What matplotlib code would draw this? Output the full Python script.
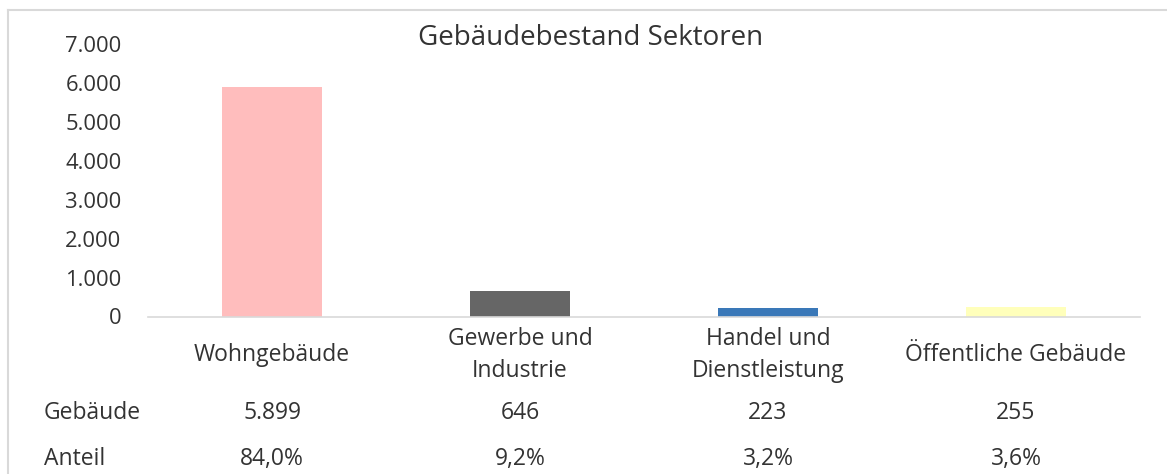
import matplotlib.pyplot as plt
from matplotlib import transforms
from matplotlib.lines import Line2D

plt.rcParams['font.family'] = ['Open Sans', 'DejaVu Sans']

# data
categories = ["Wohngebäude", "Gewerbe und\nIndustrie", "Handel und\nDienstleistung", "Öffentliche Gebäude"]
gebaeude = [5899, 646, 223, 255]
anteil = [84.0, 9.2, 3.2, 3.6]
yticks = [0, 1000, 2000, 3000, 4000, 5000, 6000, 7000]
colors = ["#FFBDBD", "#666666", "#3A78B8", "#FFFFBB"]

W, H = 1167, 474
txt = "#333333"
fs = 16.5

fig = plt.figure(figsize=(W / 100, H / 100), dpi=100)

# chart border (only top and left visible in the crop)
fig.add_artist(Line2D([8 / W, 1], [1 - 10 / H] * 2, color="#D9D9D9", lw=1.5))
fig.add_artist(Line2D([8 / W] * 2, [0, 1 - 10 / H], color="#D9D9D9", lw=1.5))

left, right, top, bottom = 148, 1140, 44.5, 316.5
ax = fig.add_axes([left / W, 1 - bottom / H, (right - left) / W, (bottom - top) / H])

x = range(len(categories))
ax.bar(x, gebaeude, width=0.4, color=colors)
ax.set_xlim(-0.5, len(categories) - 0.5)
ax.set_ylim(0, 7000)
ax.set_yticks(yticks)
ax.set_yticklabels([f"{v:,}".replace(",", ".") for v in yticks], fontsize=15.8, color=txt)
ax.tick_params(axis="y", length=0, pad=19)
ax.set_xticks([])
for s in ["top", "right", "left"]:
    ax.spines[s].set_visible(False)
ax.spines["bottom"].set_color("#D9D9D9")
ax.spines["bottom"].set_linewidth(1.2)

fig.text(591 / W, 1 - 38 / H, "Gebäudebestand Sektoren", ha="center", va="center",
         fontsize=20, color=txt)

tr = transforms.blended_transform_factory(ax.transData, fig.transFigure)
for i, c in enumerate(categories):
    ax.text(i, 1 - 355 / H, c, transform=tr, ha="center", va="center",
            fontsize=fs, color=txt, linespacing=1.45, clip_on=False)
    ax.text(i, 1 - 413 / H, f"{gebaeude[i]:,}".replace(",", "."), transform=tr,
            ha="center", va="center", fontsize=fs, color=txt, clip_on=False)
    ax.text(i, 1 - 459 / H, f"{anteil[i]:.1f}%".replace(".", ","), transform=tr,
            ha="center", va="center", fontsize=fs, color=txt, clip_on=False)

fig.text(44 / W, 1 - 413 / H, "Gebäude", ha="left", va="center", fontsize=fs, color=txt)
fig.text(44 / W, 1 - 459 / H, "Anteil", ha="left", va="center", fontsize=fs, color=txt)

fig.savefig("out.png", dpi=100, facecolor="white")
